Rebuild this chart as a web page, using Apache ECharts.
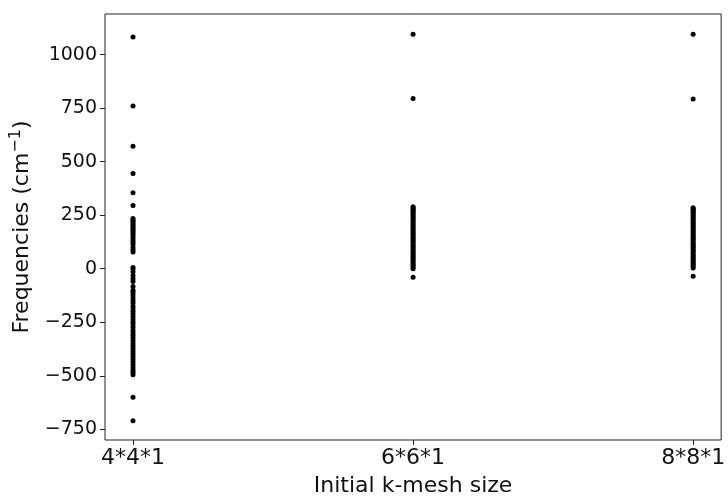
<!DOCTYPE html>
<html>
<head>
<meta charset="utf-8">
<script src="https://cdn.jsdelivr.net/npm/echarts@6/dist/echarts.min.js"></script>
<style>
  html, body { margin: 0; padding: 0; background: #fff; }
  #chart { width: 728px; height: 502px; }
</style>
</head>
<body>
<div id="chart"></div>
<script>
const categories = ["4*4*1", "6*6*1", "8*8*1"];
const yTicks = [-750, -500, -250, 0, 250, 500, 750, 1000];

// frequencies, one list per k-mesh
const freq441 = [1082, 760, 572, 445, 355, 296, 235, 228, 222, 215, 207, 200, 192, 185,
  176, 168, 160, 150, 140, 130, 122, 112, 98, 88, 78, 6, 0, -14, -32, -47, -60, -83,
  -101, -110, -122, -135, -148, -160, -175, -188, -200, -212, -225, -238, -250, -262,
  -275, -288, -300, -312, -325, -338, -350, -362, -375, -388, -400, -412, -425, -438,
  -450, -462, -475, -485, -495, -600, -710];
const freq661 = [1095, 795, 290, 285, 280, 275, 268, 262, 255, 248, 240, 232, 225, 218,
  210, 202, 195, 188, 180, 172, 165, 158, 150, 142, 135, 128, 120, 112, 105, 98, 90,
  82, 75, 68, 60, 52, 45, 38, 30, 22, 15, 8, 0, -40];
const freq881 = [1095, 793, 285, 280, 276, 270, 264, 258, 250, 243, 236, 228, 220, 213,
  206, 198, 190, 183, 175, 168, 160, 152, 145, 138, 130, 122, 115, 108, 100, 92, 85,
  78, 70, 62, 55, 48, 40, 32, 25, 18, 10, 3, -35];

const allFreq = [freq441, freq661, freq881];
const points = [];
allFreq.forEach((list, i) => list.forEach((v) => points.push([i, v])));

const font = "DejaVu Sans";
const chart = echarts.init(document.getElementById("chart"));
chart.setOption({
  animation: false,
  grid: { left: 102, right: 4, top: 14, bottom: 55, show: true, borderColor: "#222", borderWidth: 1 },
  xAxis: {
    type: "value",
    min: -0.1,
    max: 2.1,
    name: "Initial k-mesh size",
    nameLocation: "middle",
    nameGap: 35,
    nameTextStyle: { fontFamily: font, fontSize: 22, color: "#111" },
    axisLine: { show: false, onZero: false },
    splitLine: { show: false },
    axisTick: { show: true, length: 5, lineStyle: { color: "#222" }, customValues: [0, 1, 2] },
    axisLabel: {
      fontFamily: font, fontSize: 22, color: "#111", margin: 7,
      customValues: [0, 1, 2],
      formatter: (v) => categories[Math.round(v)],
    },
  },
  yAxis: {
    type: "value",
    min: -800,
    max: 1190,
    name: "Frequencies (cm{sup|\u22121})",
    nameLocation: "middle",
    nameRotate: 90,
    nameGap: 69,
    nameTextStyle: {
      fontFamily: font, fontSize: 22, color: "#111",
      rich: { sup: { fontFamily: font, fontSize: 16, color: "#111", padding: [0, 0, 12, 0] } },
    },
    axisLine: { show: false, onZero: false },
    splitLine: { show: false },
    axisTick: { show: true, length: 5, lineStyle: { color: "#222" }, customValues: yTicks },
    axisLabel: {
      fontFamily: font, fontSize: 19, color: "#111", margin: 8,
      customValues: yTicks,
      formatter: (v) => String(v).replace("-", "\u2212"),
    },
  },
  series: [{
    type: "scatter",
    data: points,
    symbolSize: 5,
    itemStyle: { color: "#000", opacity: 1 },
  }],
});
</script>
</body>
</html>
